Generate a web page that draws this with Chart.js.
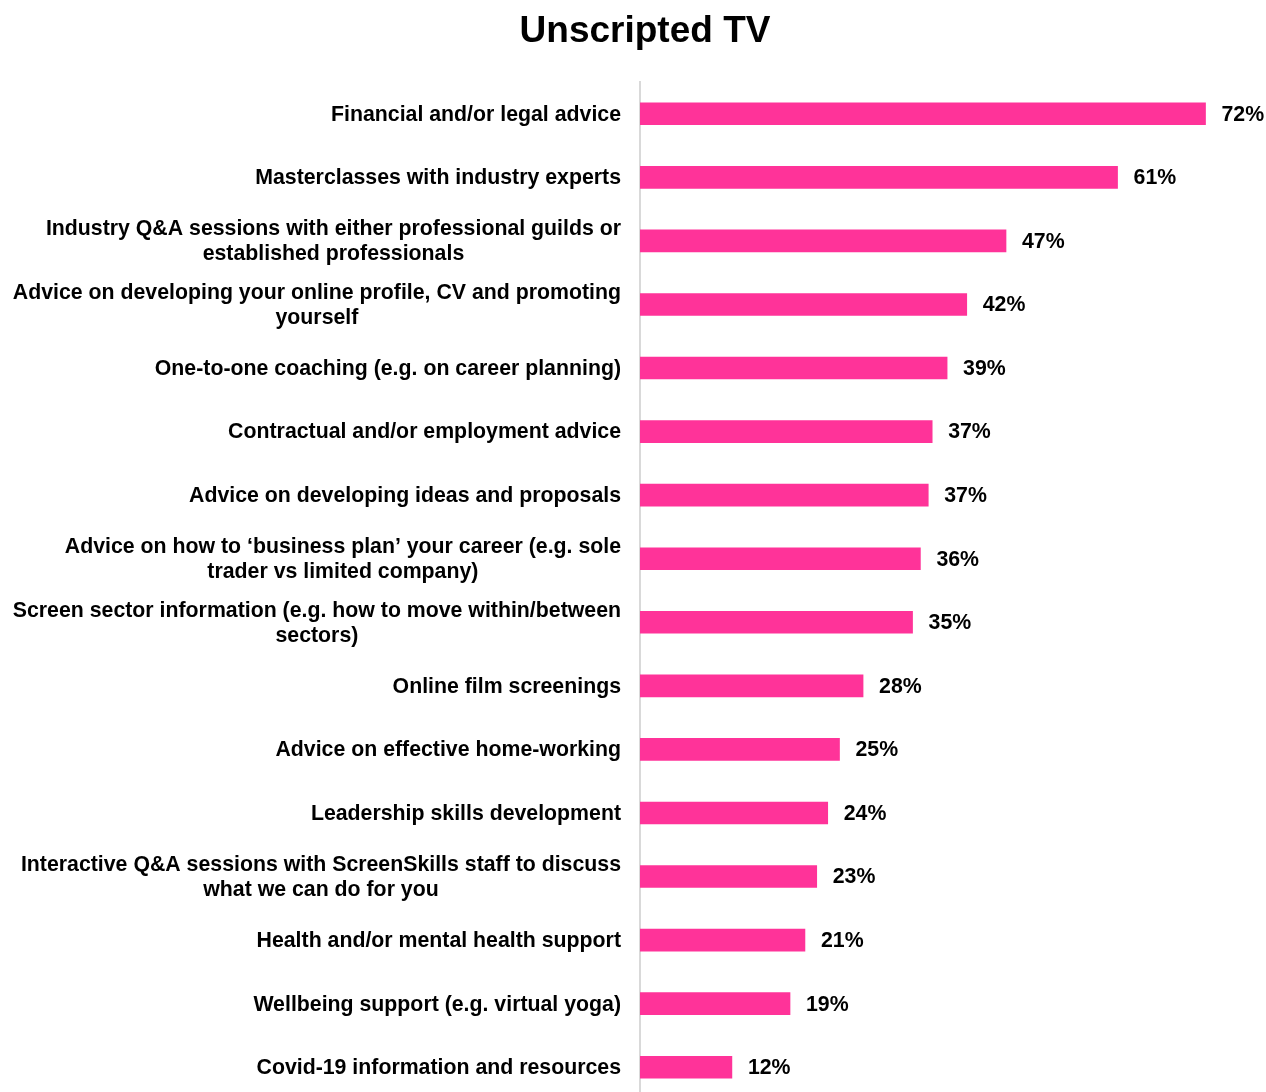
<!DOCTYPE html>
<html>
<head>
<meta charset="utf-8">
<script src="https://cdn.jsdelivr.net/npm/chart.js@4/dist/chart.umd.min.js"></script>
<style>
  html, body { margin: 0; padding: 0; background: #fff; overflow: hidden; }
  #wrap { width: 1266px; height: 1099px; }
</style>
</head>
<body>
<div id="wrap"><canvas id="c" width="1266" height="1099"></canvas></div>
<script>
const titleText = 'Unscripted TV';
const categories = [
  ['Financial and/or legal advice'],
  ['Masterclasses with industry experts'],
  ['Industry Q&A sessions with either professional guilds or', 'established professionals'],
  ['Advice on developing your online profile, CV and promoting', 'yourself'],
  ['One-to-one coaching (e.g. on career planning)'],
  ['Contractual and/or employment advice'],
  ['Advice on developing ideas and proposals'],
  ['Advice on how to \u2018business plan\u2019 your career (e.g. sole', 'trader vs limited company)'],
  ['Screen sector information (e.g. how to move within/between', 'sectors)'],
  ['Online film screenings'],
  ['Advice on effective home-working'],
  ['Leadership skills development'],
  ['Interactive Q&A sessions with ScreenSkills staff to discuss', 'what we can do for you'],
  ['Health and/or mental health support'],
  ['Wellbeing support (e.g. virtual yoga)'],
  ['Covid-19 information and resources']
];
const values = [72.0, 60.8, 46.6, 41.6, 39.1, 37.2, 36.7, 35.7, 34.7, 28.4, 25.4, 23.9, 22.5, 21.0, 19.1, 11.7];

const FONT = '"Liberation Sans", Arial, Helvetica, sans-serif';

const labelPlugin = {
  id: 'customLabels',
  afterDraw(chart) {
    const ctx = chart.ctx;
    const ys = chart.scales.y;
    const xs = chart.scales.x;
    ctx.save();
    ctx.fillStyle = '#000';
    // title
    ctx.font = 'bold 37px ' + FONT;
    ctx.textAlign = 'center';
    ctx.textBaseline = 'alphabetic';
    ctx.fillText(titleText, 645, 42);
    // category labels
    ctx.font = 'bold 21.3px ' + FONT;
    ctx.textBaseline = 'middle';
    const rightEdge = chart.chartArea.left - 19;
    categories.forEach((lines, i) => {
      const y = ys.getPixelForValue(i) + 1;
      let maxW = 0;
      lines.forEach(l => { maxW = Math.max(maxW, ctx.measureText(l).width); });
      const cx = rightEdge - maxW / 2;
      ctx.textAlign = 'center';
      lines.forEach((l, j) => {
        ctx.fillText(l, cx, y + (j - (lines.length - 1) / 2) * 25);
      });
    });
    // value labels
    ctx.textAlign = 'left';
    values.forEach((v, i) => {
      const y = ys.getPixelForValue(i) + 1;
      const x = xs.getPixelForValue(v) + 16;
      ctx.fillText(Math.round(v) + '%', x, y);
    });
    ctx.restore();
  }
};

new Chart(document.getElementById('c'), {
  type: 'bar',
  data: {
    labels: categories,
    datasets: [{
      data: values,
      backgroundColor: '#FF3399',
      borderWidth: 0,
      barThickness: 22
    }]
  },
  options: {
    indexAxis: 'y',
    responsive: false,
    animation: false,
    devicePixelRatio: 1,
    layout: { padding: { top: 82, left: 0, right: 0, bottom: 0 } },
    plugins: {
      legend: { display: false },
      title: { display: false },
      tooltip: { enabled: false }
    },
    scales: {
      x: {
        display: false,
        min: 0,
        max: 79.7
      },
      y: {
        display: true,
        ticks: { display: false },
        grid: { display: false, drawTicks: false },
        border: { display: true, color: '#d9d9d9', width: 2 },
        afterFit(scale) { scale.width = 640; }
      }
    }
  },
  plugins: [labelPlugin]
});
</script>
</body>
</html>
